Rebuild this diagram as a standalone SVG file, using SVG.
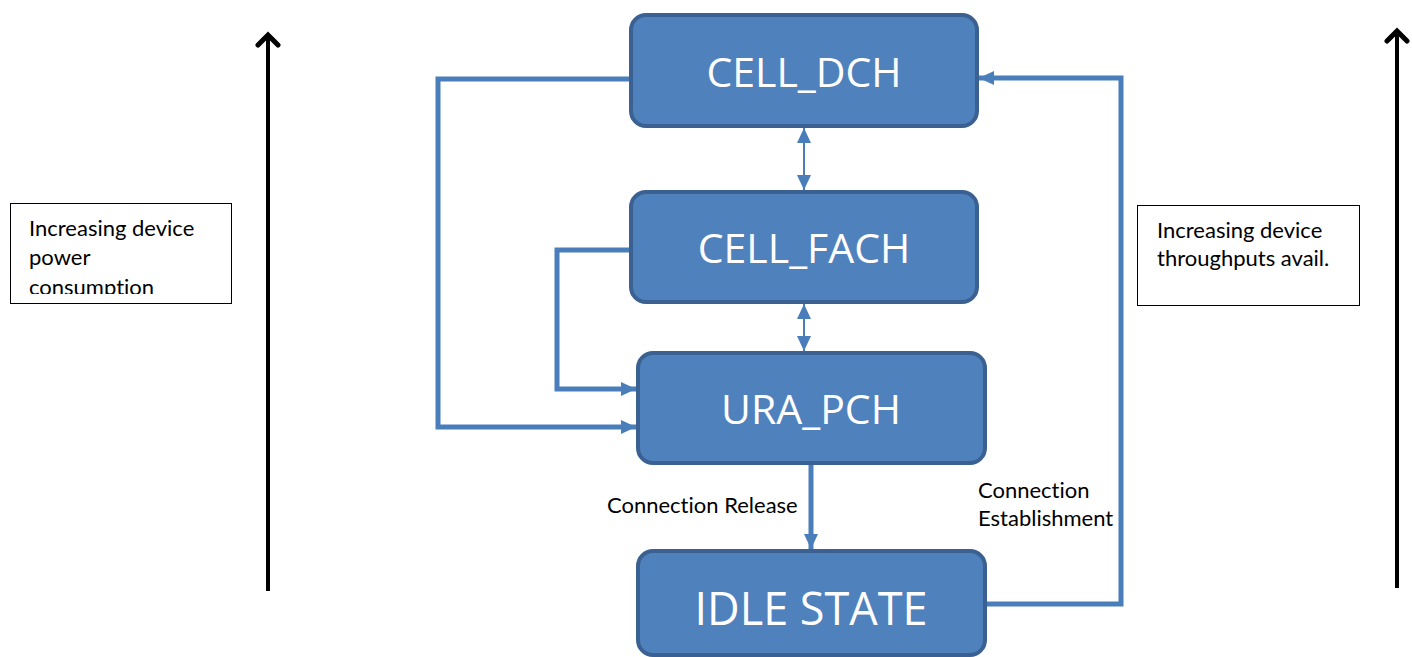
<svg xmlns="http://www.w3.org/2000/svg" width="1412" height="657" viewBox="0 0 1412 657">
<style>
.node rect{fill:#4f81bd;stroke:#3a6191;stroke-width:4}
.node text{fill:#fff;font-family:"Open Sans","Liberation Sans",sans-serif;text-anchor:middle}
.conn{fill:none;stroke:#4a7ebb;stroke-width:5}
.thin{fill:none;stroke:#4a7ebb;stroke-width:2}
.lbl{font-family:Lato,"Open Sans",sans-serif;font-size:22px;fill:#000;font-variant-ligatures:none}
.box{fill:#fff;stroke:#000;stroke-width:1}
.axis{stroke:#000;stroke-width:4;fill:none}
</style>
<defs>
<marker id="ah" markerUnits="userSpaceOnUse" markerWidth="16" markerHeight="16" viewBox="0 0 16 16" refX="15" refY="8" orient="auto">
<path d="M0,1 L15,8 L0,15 Z" fill="#4a7ebb"/>
</marker>
<marker id="ahs" markerUnits="userSpaceOnUse" markerWidth="16" markerHeight="16" viewBox="0 0 16 16" refX="15" refY="8" orient="auto-start-reverse">
<path d="M0,1 L15,8 L0,15 Z" fill="#4a7ebb"/>
</marker>
<marker id="blk" markerUnits="userSpaceOnUse" markerWidth="26" markerHeight="26" viewBox="0 0 26 26" refX="13" refY="13" orient="auto">
<path d="M3,3 L13,13 L3,23" fill="none" stroke="#000" stroke-width="5" stroke-linecap="round" stroke-linejoin="miter"/>
</marker>
<clipPath id="clipL"><rect x="10" y="203" width="221" height="91"/></clipPath>
</defs>

<g id="axes">
<line class="axis" x1="268" y1="591" x2="268" y2="35" marker-end="url(#blk)"/>
<line class="axis" x1="1397" y1="588" x2="1397" y2="31" marker-end="url(#blk)"/>
</g>

<g id="power-box">
<rect class="box" x="10.5" y="203.5" width="221" height="100"/>
<g clip-path="url(#clipL)">
<text class="lbl" x="29" y="236">Increasing device</text>
<text class="lbl" x="29" y="265">power</text>
<text class="lbl" x="29" y="295">consumption</text>
</g>
</g>

<g id="throughput-box">
<rect class="box" x="1137.5" y="205.5" width="222" height="100"/>
<text class="lbl" x="1157" y="238">Increasing device</text>
<text class="lbl" x="1157" y="266">throughputs avail.</text>
</g>

<g id="connectors">
<polyline class="conn" points="631,79 438,79 438,427 636,427" marker-end="url(#ah)"/>
<polyline class="conn" points="631,250 557,250 557,389 636,389" marker-end="url(#ah)"/>
<line class="thin" x1="804" y1="128" x2="804" y2="190" marker-start="url(#ahs)" marker-end="url(#ahs)"/>
<line class="thin" x1="804" y1="304" x2="804" y2="351" marker-start="url(#ahs)" marker-end="url(#ahs)"/>
<line class="conn" x1="811" y1="465" x2="811" y2="549" marker-end="url(#ah)"/>
<polyline class="conn" points="987,604 1121,604 1121,78 979,78" marker-end="url(#ah)"/>
</g>
<g id="conn-labels">
<text class="lbl" x="607" y="513">Connection Release</text>
<text class="lbl" x="978" y="498">Connection</text>
<text class="lbl" x="978" y="526">Establishment</text>
</g>

<g id="cell-dch" class="node">
<rect x="631" y="15" width="346" height="111" rx="15"/>
<text x="804" y="87" font-size="41">CELL_DCH</text>
</g>
<g id="cell-fach" class="node">
<rect x="631" y="192" width="346" height="110" rx="15"/>
<text x="804" y="263" font-size="41">CELL_FACH</text>
</g>
<g id="ura-pch" class="node">
<rect x="638" y="353" width="347" height="110" rx="15"/>
<text x="811" y="424" font-size="41">URA_PCH</text>
</g>
<g id="idle-state" class="node">
<rect x="638" y="551" width="347" height="104" rx="15"/>
<text x="811" y="625" font-size="45">IDLE STATE</text>
</g>
</svg>
